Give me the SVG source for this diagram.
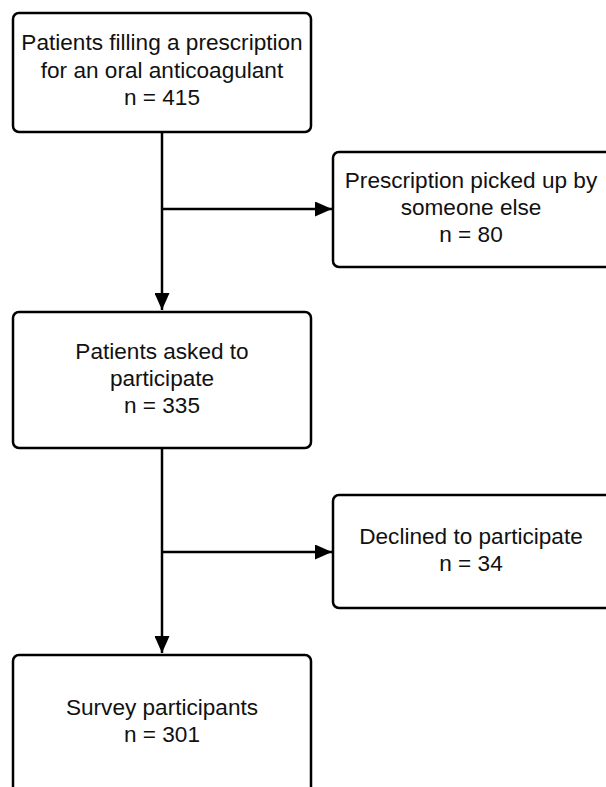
<svg xmlns="http://www.w3.org/2000/svg" width="606" height="787" viewBox="0 0 606 787">
<defs>
<style>
.box{fill:#fff;stroke:#000;stroke-width:2.5}
.t{font-family:"Liberation Sans",Arial,sans-serif;font-size:22.6px;fill:#111;text-anchor:middle}
.c{stroke:#000;stroke-width:2.5;fill:none}
</style>
<marker id="ahb" viewBox="0 0 10 10" refX="10" refY="5" markerWidth="17" markerHeight="15" preserveAspectRatio="none" markerUnits="userSpaceOnUse" orient="auto">
<path d="M0,0 L10,5 L0,10 z" fill="#000"/>
</marker>
</defs>
<rect width="606" height="787" fill="#fff"/>
<g id="connectors">
<path class="c" d="M162,132 V310" marker-end="url(#ahb)"/>
<path class="c" d="M162,209 H332" marker-end="url(#ahb)"/>
<path class="c" d="M162,448 V653" marker-end="url(#ahb)"/>
<path class="c" d="M162,552 H332" marker-end="url(#ahb)"/>
</g>
<g id="n1">
<rect class="box" x="13" y="13" width="298" height="119" rx="6"/>
<text class="t" x="162" y="50">Patients filling a prescription</text>
<text class="t" x="162" y="78">for an oral anticoagulant</text>
<text class="t" x="162" y="105">n = 415</text>
</g>
<g id="n2">
<rect class="box" x="333" y="152" width="280" height="115" rx="6"/>
<text class="t" x="471" y="188">Prescription picked up by</text>
<text class="t" x="471" y="215">someone else</text>
<text class="t" x="471" y="242">n = 80</text>
</g>
<g id="n3">
<rect class="box" x="13" y="312" width="298" height="136" rx="6"/>
<text class="t" x="162" y="359">Patients asked to</text>
<text class="t" x="162" y="386">participate</text>
<text class="t" x="162" y="413">n = 335</text>
</g>
<g id="n4">
<rect class="box" x="333" y="495" width="280" height="113" rx="6"/>
<text class="t" x="471" y="544">Declined to participate</text>
<text class="t" x="471" y="571">n = 34</text>
</g>
<g id="n5">
<rect class="box" x="13" y="655" width="298" height="150" rx="6"/>
<text class="t" x="162" y="715">Survey participants</text>
<text class="t" x="162" y="742">n = 301</text>
</g>
</svg>
